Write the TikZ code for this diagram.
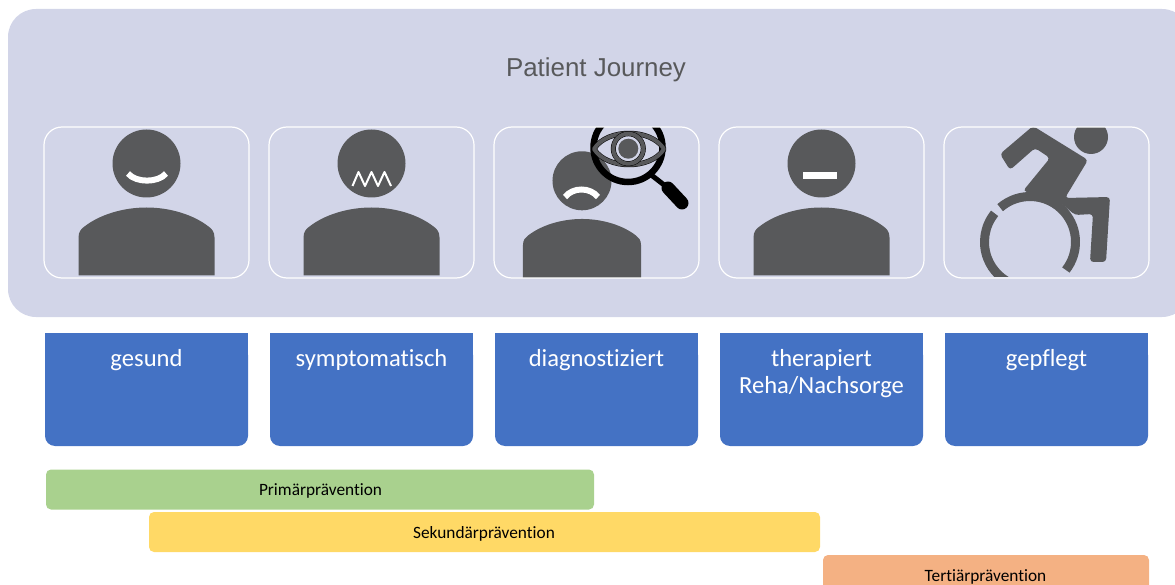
\documentclass[tikz,border=0pt]{standalone}
\usepackage{fontspec}
\setmainfont[Ligatures=CommonOff]{Carlito}
\newfontfamily\titlefont{Liberation Sans}
\definecolor{panelcol}{HTML}{D2D5E8}
\definecolor{iconcol}{HTML}{58595B}
\definecolor{phasecol}{HTML}{4472C4}
\definecolor{primcol}{HTML}{A9D18E}
\definecolor{sekcol}{HTML}{FFD966}
\definecolor{tertcol}{HTML}{F4B183}
\tikzstyle{panel}=[fill=panelcol, rounded corners=28]
\tikzstyle{iconbox}=[draw=white, line width=1.2pt, rounded corners=18]
\tikzstyle{phase}=[fill=phasecol, rounded corners=10]
\tikzstyle{phase label}=[text=white, font=\fontsize{24.6}{27}\selectfont, align=center, anchor=north]
\tikzstyle{bar}=[rounded corners=5]
\tikzstyle{bar label}=[text=black, font=\fontsize{17.3}{20}\selectfont]
\tikzstyle{icon}=[fill=iconcol]
\tikzstyle{mouth}=[draw=white, line width=6pt]
\tikzstyle{eye line}=[line join=round]
\tikzset{pics/person/.style={code={
  \fill[icon] (0,-112) circle (34);
  \fill[icon] (-68,0) -- (-68,-38) .. controls (-68,-44) and (-65,-47) .. (-62,-49)
    .. controls (-48,-60) and (-25,-68) .. (0,-68)
    .. controls (25,-68) and (48,-60) .. (62,-49)
    .. controls (65,-47) and (68,-44) .. (68,-38) -- (68,0) -- cycle;
}}}
\begin{document}
\begin{tikzpicture}[x=1pt, y=-1pt]
  \useasboundingbox (0,0) rectangle (1175,585);
  \clip (0,0) rectangle (1175,585);
  \fill[panel] (8,9) rectangle (1190,317);
  \node[text=iconcol, font=\titlefont\fontsize{25.9}{30}\selectfont] (title) at (596,70) {Patient Journey};
  % person icons
  \pic at (146.5,275.5) {person};
  \draw[mouth] (128,173.5) .. controls (136,183) and (158,183) .. (166,173.5);
  \pic at (371.5,275.5) {person};
  \draw[draw=white, line width=2pt, line join=round] (352.5,186) -- (358.5,172) -- (365,186) -- (371.5,172)
    -- (378,186) -- (384.5,172) -- (391,186);
  \pic[scale=0.868] at (582,278) {person};
  \draw[mouth] (565,197) .. controls (573,187) and (590,187) .. (598,197);
  \pic at (821.5,275.5) {person};
  \fill[white] (803,172.3) rectangle (836.5,179.3);
  % magnifier with eye
  \begin{scope}
    \clip (494,128) rectangle (699,278);
    \draw[line width=6.5pt] (628,147.5) circle (34.5);
    \draw[line width=5pt] (650,174) -- (668,188);
    \draw[line width=13pt, line cap=round] (668,188) -- (682,203);
    \draw[eye line, line width=5pt] (594,149) .. controls (607,128) and (651,128) .. (664,149)
      .. controls (651,170) and (607,170) .. cycle;
    \draw[eye line, iconcol, line width=4pt] (594,149) .. controls (607,128) and (651,128) .. (664,149)
      .. controls (651,170) and (607,170) .. cycle;
    \draw[line width=5pt] (628.3,148.7) circle (15);
    \draw[iconcol, line width=4pt] (628.3,148.7) circle (15);
    \fill[icon] (628.3,148.7) circle (10);
  \end{scope}
  % wheelchair
  \begin{scope}
    \clip (944,128) rectangle (1149,277);
    \fill[icon] (1091,137) circle (17);
    \fill[icon, rounded corners=3.5] (1000,154) -- (1033,126) -- (1088,160) -- (1065,198) -- (1110,197)
      -- (1106,262) -- (1090,262) -- (1093,214) -- (1075,215) -- (1062,204) -- (1040,195) -- (1023,191)
      -- (1050,158) -- (1035,148) -- (1010,170) -- cycle;
    \draw[iconcol, line width=9pt] (1030,242) ++(-131:45.5) arc (-131:38:45.5);
    \draw[iconcol, line width=9pt] (1030,242) ++(-141:45.5) arc (-141:-250:45.5);
  \end{scope}
  % icon boxes
  \draw[iconbox] (44,127) rectangle (249,278);
  \draw[iconbox] (269,127) rectangle (474,278);
  \draw[iconbox] (494,127) rectangle (699,278);
  \draw[iconbox] (719,127) rectangle (924,278);
  \draw[iconbox] (944,127) rectangle (1149,278);
  % phases
  \fill[phasecol] (45,333) rectangle (248,360);
  \fill[phasecol] (270,333) rectangle (473,360);
  \fill[phasecol] (495,333) rectangle (698,360);
  \fill[phasecol] (720,333) rectangle (923,360);
  \fill[phasecol] (945,333) rectangle (1148,360);
  \fill[phase] (45,345) rectangle (248,446);
  \fill[phase] (270,345) rectangle (473,446);
  \fill[phase] (495,345) rectangle (698,446);
  \fill[phase] (720,345) rectangle (923,446);
  \fill[phase] (945,345) rectangle (1148,446);
  \node[phase label] (gesund) at (146.5,346) {gesund};
  \node[phase label] (symptomatisch) at (371.5,346) {symptomatisch};
  \node[phase label] (diagnostiziert) at (596.5,346) {diagnostiziert};
  \node[phase label] (therapiert) at (821.5,346) {therapiert\\Reha/Nachsorge};
  \node[phase label] (gepflegt) at (1046.5,346) {gepflegt};
  % prevention bars
  \fill[bar, primcol] (46,469.5) rectangle (594,509.5);
  \fill[bar, sekcol] (149,512) rectangle (820,552);
  \fill[bar, tertcol] (823,555) rectangle (1149,595);
  \node[bar label] (prim) at (320.5,490.5) {Primärprävention};
  \node[bar label] (sek) at (484,534) {Sekundärprävention};
  \node[bar label] (tert) at (985.5,577) {Tertiärprävention};
\end{tikzpicture}
\end{document}
